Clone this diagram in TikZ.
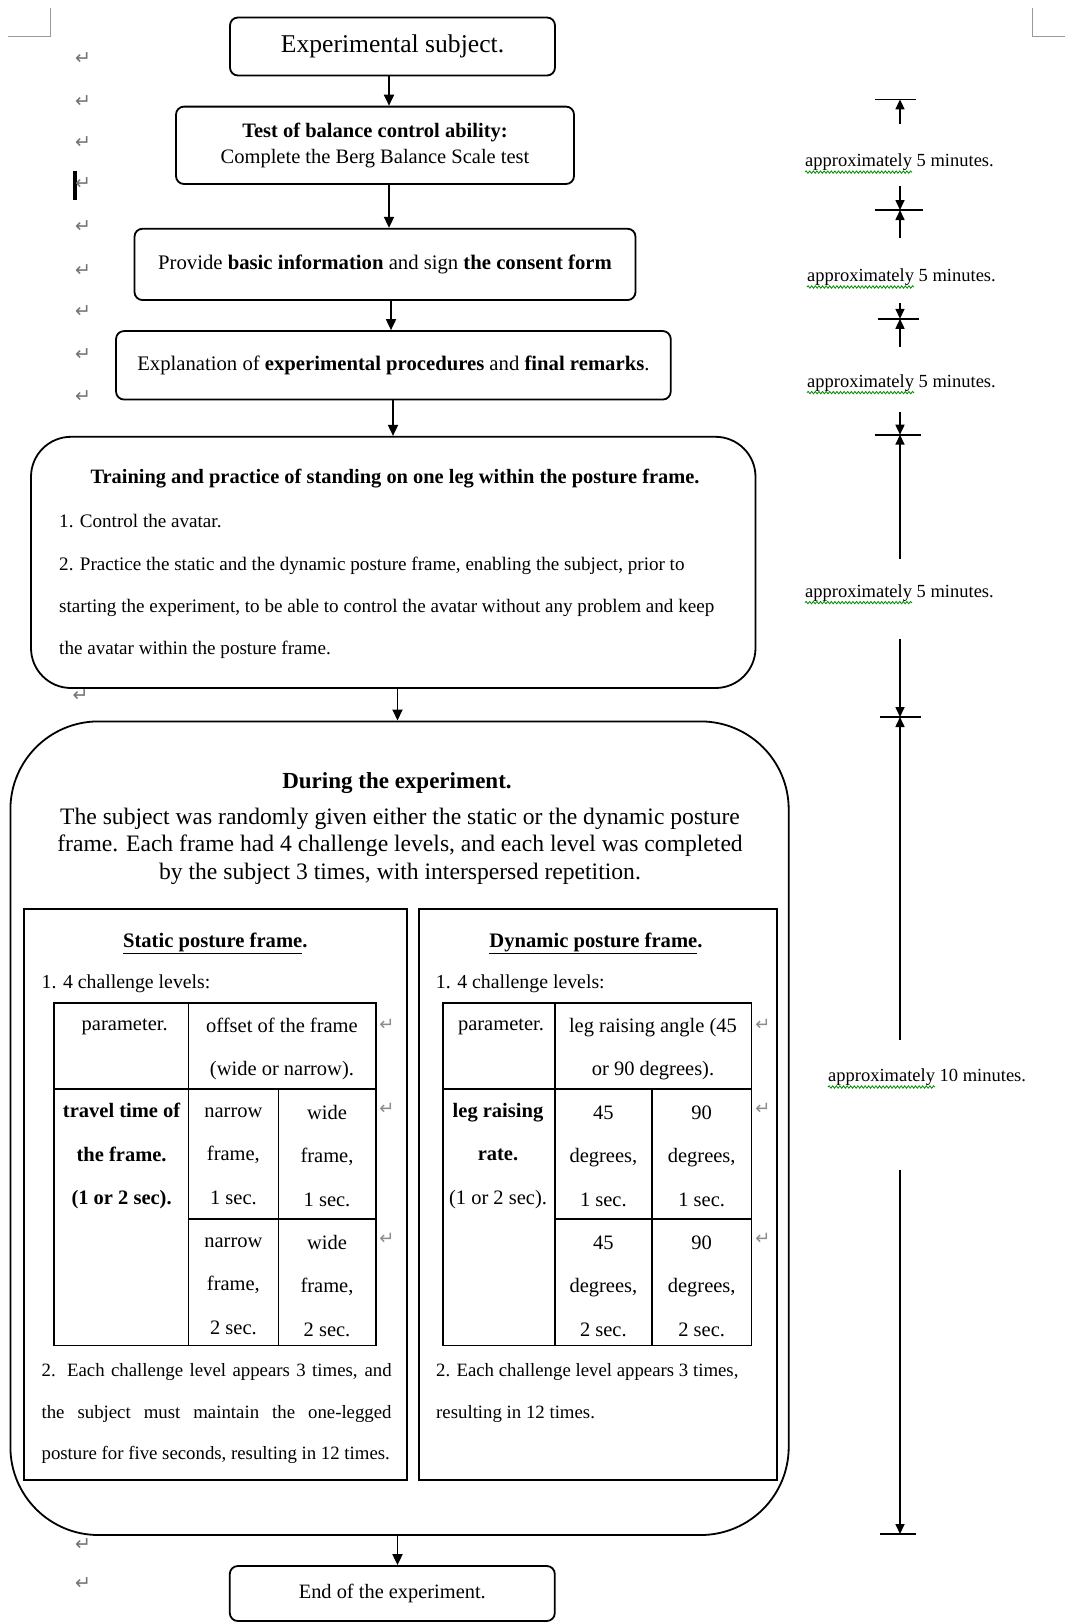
\documentclass[tikz,border=0pt]{standalone}
\usepackage{fontspec}
\setmainfont{Liberation Serif}
\newfontfamily\symfont{DejaVu Sans}
\usetikzlibrary{arrows.meta,decorations.pathmorphing}
\newcommand\myfs[2]{\fontsize{#1}{#2}\selectfont}
\begin{document}
\begin{tikzpicture}[x=1pt,y=-1pt,
 box/.style={draw,line width=1.8pt,rounded corners=8pt,inner sep=0pt},
 plainbox/.style={draw,line width=1.8pt,inner sep=0pt},
 arr/.style={line width=1.8pt,-{Triangle[length=11pt,width=10pt]}},
 tickline/.style={line width=1.6pt},
 darr/.style={line width=1.6pt,-{Triangle[length=10pt,width=9pt]}},
 txt/.style={inner sep=0pt},
 cell/.style={inner sep=0pt,align=center,font=\myfs{20.5pt}{43.5pt}},
 pmark/.style={inner sep=0pt,text=black!55,font=\symfont\myfs{19pt}{19pt}},
 cmark/.style={inner sep=0pt,text=black!45,font=\symfont\myfs{18pt}{18pt}},
 durlbl/.style={inner sep=0pt,anchor=west,font=\myfs{18.5pt}{18.5pt}},
 squig/.style={draw=green!55!black,line width=0.8pt,decorate,decoration={snake,amplitude=1.2pt,segment length=3.6pt}},
 cornermark/.style={draw=black!40,line width=1pt},
 tbl/.style={line width=1.8pt},
 body/.style={inner sep=0pt,anchor=west,font=\myfs{19.1pt}{19.1pt}},
 small/.style={inner sep=0pt,anchor=west,font=\myfs{18.8pt}{18.8pt}}]

\useasboundingbox (0,0) rectangle (1065,1623);
\fill[white] (0,0) rectangle (1065,1623);

% page corner marks
\draw[cornermark] (8,36) -- (50,36) -- (50,8);
\draw[cornermark] (1032,8) -- (1032,36) -- (1065,36);

% cursor bar
\fill (73,171) rectangle (76.5,200);

% flow boxes
\node[box,minimum width=325pt,minimum height=58pt,font=\myfs{25.6pt}{30pt}] (b1) at (392.5,46.5) {Experimental subject.};
\node[box,minimum width=398pt,minimum height=77.4pt,align=center,font=\myfs{20.5pt}{25.6pt}] (b2) at (375,145.3) {\textbf{Test of balance control ability:}\\Complete the Berg Balance Scale test};
\node[box,minimum width=501pt,minimum height=71.3pt,font=\myfs{20.7pt}{25pt}] (b3) at (385,264.4) {Provide \textbf{basic information} and sign \textbf{the consent form}};
\node[box,minimum width=554.7pt,minimum height=68.5pt,font=\myfs{20.7pt}{25pt}] (b4) at (393.4,365.3) {Explanation of \textbf{experimental procedures} and \textbf{final remarks}.};

% training box
\node[box,rounded corners=40pt,minimum width=724.5pt,minimum height=251.2pt] (b5) at (393.25,562.4) {};
\node[txt,font=\bfseries\myfs{20.4pt}{24pt}] (t5) at (395,479) {Training and practice of standing on one leg within the posture frame.};
\node[body] (t5a) at (59,520.6) {1. Control the avatar.};
\node[body] (t5b) at (59,566) {2. Practice the static and the dynamic posture frame, enabling the subject, prior to};
\node[body] (t5c) at (59,607.5) {starting the experiment, to be able to control the avatar without any problem and keep};
\node[body] (t5d) at (59,650) {the avatar within the posture frame.};

% experiment box
\node[box,rounded corners=88pt,minimum width=778.3pt,minimum height=813.6pt] (b6) at (399.55,1128.2) {};
\node[txt,font=\bfseries\myfs{23pt}{23pt}] (t6) at (397,783.5) {During the experiment.};
\node[txt,align=center,font=\myfs{23.6pt}{27.4pt}] (t6b) at (400,846) {The subject was randomly given either the static or the dynamic posture\\frame. Each frame had 4 challenge levels, and each level was completed\\by the subject 3 times, with interspersed repetition.};

% static / dynamic boxes
\node[plainbox,minimum width=383pt,minimum height=571.3pt] (sb) at (215.3,1194.35) {};
\node[plainbox,minimum width=358.3pt,minimum height=571.3pt] (db) at (598.15,1194.35) {};
\node[txt,font=\bfseries\myfs{20.6pt}{20.6pt}] (st) at (215.3,943) {\underline{Static posture frame}.};
\node[txt,font=\bfseries\myfs{20.6pt}{20.6pt}] (dt) at (596,943) {\underline{Dynamic posture frame}.};
\node[txt,anchor=west,font=\myfs{19.8pt}{19.8pt}] (sl) at (41.4,984) {1. 4 challenge levels:};
\node[txt,anchor=west,font=\myfs{19.8pt}{19.8pt}] (dl) at (435.7,984) {1. 4 challenge levels:};

% static table
\draw[tbl] (53.8,1003) rectangle (375.7,1345.5);
\draw[tbl] (53.8,1088.8) -- (375.7,1088.8);
\draw[tbl] (188.4,1003) -- (188.4,1345.5);
\draw[tbl] (278.4,1088.8) -- (278.4,1345.5);
\draw[tbl] (188.4,1219.2) -- (375.7,1219.2);
\node[cell] (s11) at (124.7,1027) {parameter.};
\node[cell] (s12) at (282,1049) {offset of the frame\\(wide or narrow).};
\node[cell,font=\bfseries\myfs{20.5pt}{43.5pt}] (s21) at (121.6,1156) {travel time of\\the frame.\\(1 or 2 sec).};
\node[cell] (s22) at (233.4,1156) {narrow\\frame,\\1 sec.};
\node[cell] (s23) at (327,1156) {wide\\frame,\\1 sec.};
\node[cell] (s32) at (233.4,1286) {narrow\\frame,\\2 sec.};
\node[cell] (s33) at (327,1286) {wide\\frame,\\2 sec.};

% dynamic table
\draw[tbl] (443,1003) rectangle (751.4,1345.5);
\draw[tbl] (443,1088.8) -- (751.4,1088.8);
\draw[tbl] (554.8,1003) -- (554.8,1345.5);
\draw[tbl] (652,1088.8) -- (652,1345.5);
\draw[tbl] (554.8,1219.2) -- (751.4,1219.2);
\node[cell] (d11) at (501,1027) {parameter.};
\node[cell] (d12) at (653,1049) {leg raising angle (45\\or 90 degrees).};
\node[cell] (d21) at (498,1156) {\textbf{leg raising}\\\textbf{rate.}\\(1 or 2 sec).};
\node[cell] (d22) at (603.4,1156) {45\\degrees,\\1 sec.};
\node[cell] (d23) at (701.7,1156) {90\\degrees,\\1 sec.};
\node[cell] (d32) at (603.4,1286) {45\\degrees,\\2 sec.};
\node[cell] (d33) at (701.7,1286) {90\\degrees,\\2 sec.};

% notes under tables
\node[small] (sp1) at (41.4,1372) {\makebox[350pt][s]{2. Each challenge level appears 3 times, and}};
\node[small] (sp2) at (41.4,1414) {\makebox[350pt][s]{the subject must maintain the one-legged}};
\node[small] (sp3) at (41.4,1455) {posture for five seconds, resulting in 12 times.};
\node[small] (dp1) at (436,1372) {2. Each challenge level appears 3 times,};
\node[small] (dp2) at (436,1414) {resulting in 12 times.};

% end box
\node[box,minimum width=325pt,minimum height=55pt,font=\myfs{20.4pt}{24pt}] (b7) at (392.3,1593.5) {End of the experiment.};

% connectors
\coordinate (x1) at (389,0);
\coordinate (x3) at (391,0);
\coordinate (x4) at (393,0);
\coordinate (x5) at (397.5,0);
\draw[arr] (b1.south -| x1) -- (b2.north -| x1);
\draw[arr] (b2.south -| x1) -- (b3.north -| x1);
\draw[arr] (b3.south -| x3) -- (b4.north -| x3);
\draw[arr] (b4.south -| x4) -- (b5.north -| x4);
\draw[arr] (b5.south -| x5) -- (b6.north -| x5);
\draw[arr] (b6.south -| x5) -- (b7.north -| x5);

% duration markers
\coordinate (k1) at (900,99.4);  \coordinate (u1) at (900,124);
\coordinate (k2) at (900,210);   \coordinate (d2) at (900,186);   \coordinate (u2) at (900,238);
\coordinate (k3) at (900,318.8); \coordinate (d3) at (900,303);   \coordinate (u3) at (900,347);
\coordinate (k4) at (900,434.7); \coordinate (d4) at (900,412);   \coordinate (u4) at (900,559);
\coordinate (k5) at (900,717);   \coordinate (d5) at (900,638.6); \coordinate (u5) at (900,1040);
\coordinate (k6) at (900,1534);  \coordinate (d6) at (900,1169.6);
\draw[darr] (u1) -- (k1);
\draw[darr] (d2) -- (k2); \draw[darr] (u2) -- (k2);
\draw[darr] (d3) -- (k3); \draw[darr] (u3) -- (k3);
\draw[darr] (d4) -- (k4); \draw[darr] (u4) -- (k4);
\draw[darr] (d5) -- (k5); \draw[darr] (u5) -- (k5);
\draw[darr] (d6) -- (k6);
\draw[tickline] (874.6,99.4) -- (916,99.4);
\draw[tickline] (874.6,210) -- (923,210);
\draw[tickline] (877.7,318.8) -- (919,318.8);
\draw[tickline] (874.6,434.7) -- (921,434.7);
\draw[tickline] (880,717) -- (921,717);
\draw[tickline] (880,1534) -- (916,1534);

\node[durlbl] (l1) at (805,162.5) {approximately 5 minutes.};
\node[durlbl] (l2) at (807,277.4) {approximately 5 minutes.};
\node[durlbl] (l3) at (807,383) {approximately 5 minutes.};
\node[durlbl] (l4) at (805,593) {approximately 5 minutes.};
\node[durlbl] (l5) at (828,1077.4) {approximately 10 minutes.};
\foreach \l in {l1,l2,l3,l4,l5} {\draw[squig] (\l.south west) ++(0,1) -- ++(107,0);}

% paragraph marks
\foreach \y [count=\i] in {59,101.4,142.8,184,226.7,271,311.5,355,396.4,1545,1583.6}
  {\node[pmark] (pm\i) at (83,\y) {↵};}
\node[pmark] (pm12) at (80.7,695.5) {↵};
\foreach \y [count=\i] in {1024.6,1108.5,1239}
  {\node[cmark] (cs\i) at (387,\y) {↵}; \node[cmark] (cd\i) at (762.8,\y) {↵};}
\end{tikzpicture}
\end{document}
